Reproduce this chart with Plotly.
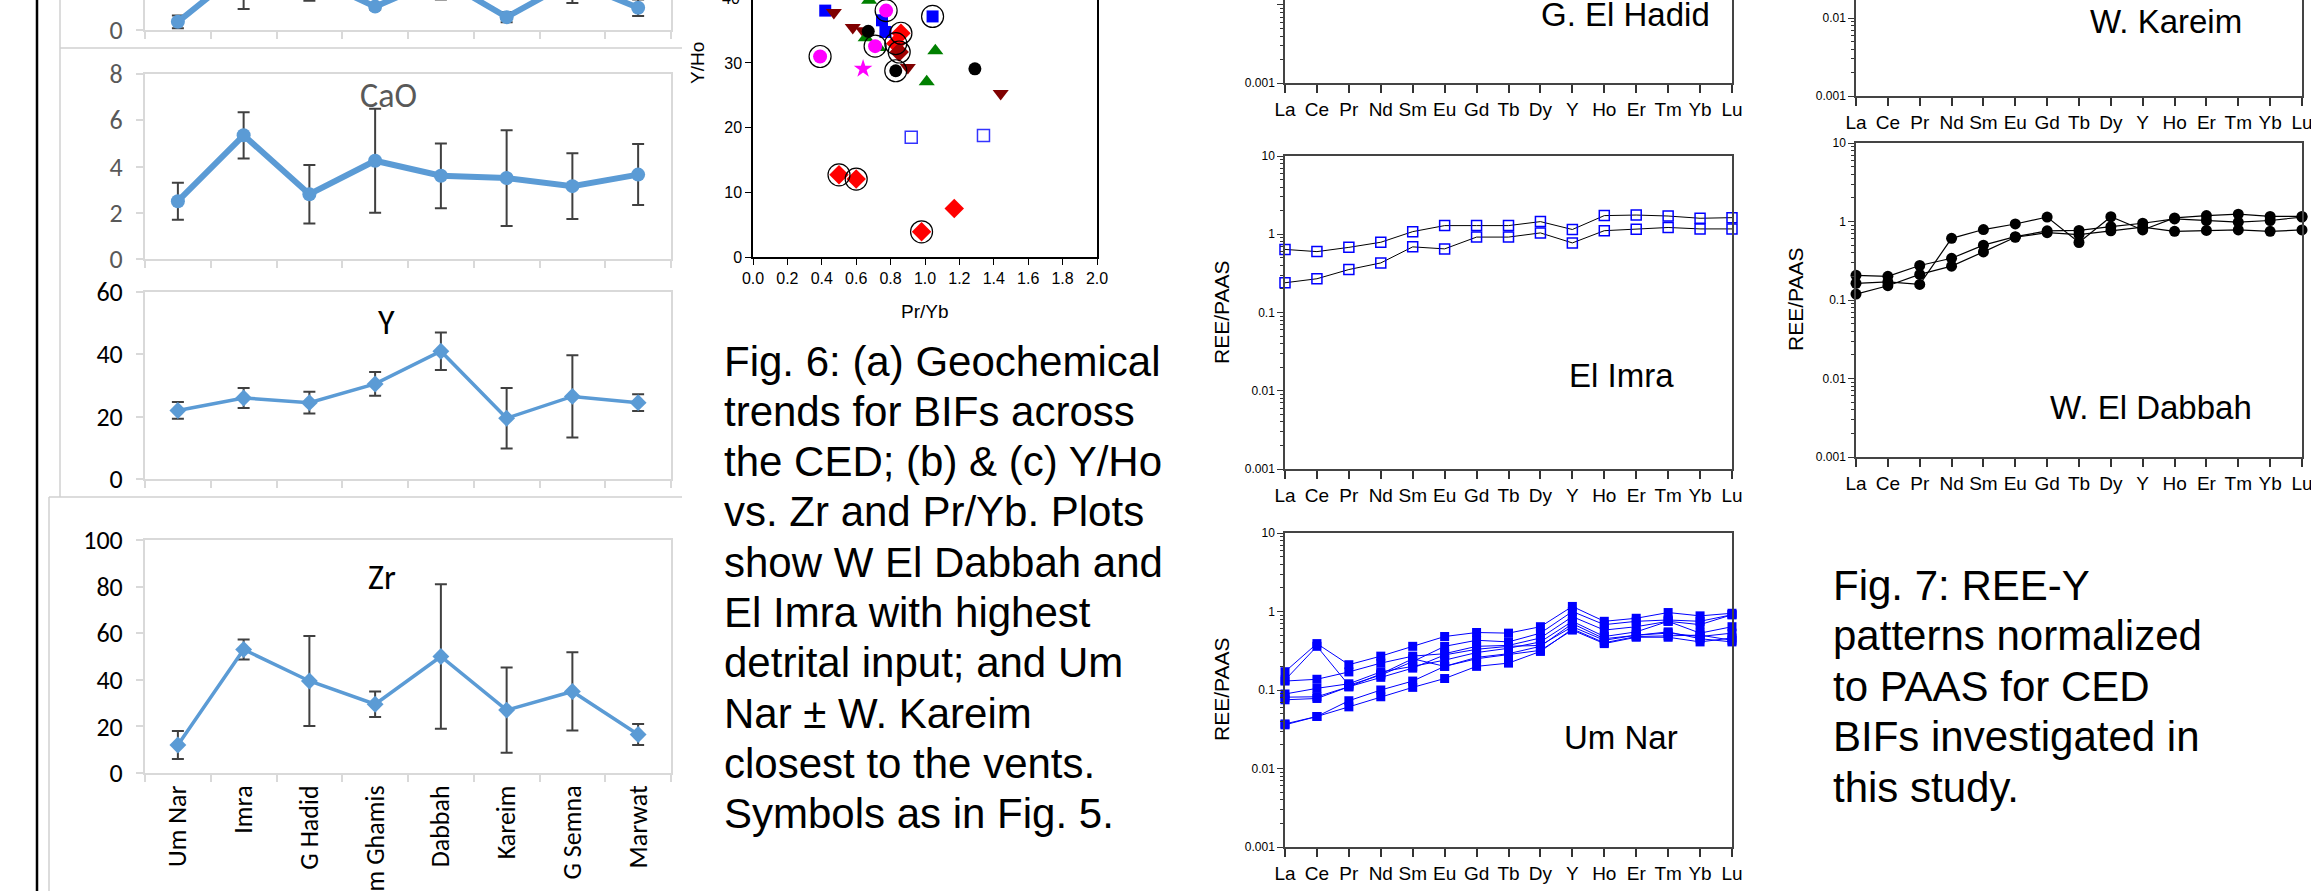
import plotly.graph_objects as go

W, H = 2311, 891
def px(x): return x / W
def py(y): return 1 - y / H

# ---------------- Fig 6a : Excel style trend panels ----------------
sites = ["Um Nar", "Imra", "G Hadid", "Um Ghamis", "Dabbah", "Kareim", "G Semna", "Marwat"]
top_vals = [0.35, 2.6, 2.3, 1.0, 2.2, 0.55, 2.1, 0.95]
top_err = [0.27, 1.7, 1.05, 0.12, 0.9, 0.22, 0.95, 0.35]
cao_vals = [2.5, 5.35, 2.8, 4.25, 3.6, 3.5, 3.15, 3.65]
cao_err = [0.8, 1.0, 1.27, 2.25, 1.4, 2.07, 1.42, 1.32]
y_vals = [22, 26, 24.5, 30.5, 41, 19.5, 26.5, 24.5]
y_err = [2.7, 3.2, 3.5, 3.8, 6, 9.7, 13.2, 2.7]
zr_vals = [12, 53, 39.5, 29.5, 50, 27, 35, 16.5]
zr_err = [6, 4.3, 19.3, 5.5, 31, 18.3, 16.8, 4.5]

# ---------------- Fig 6c : Y/Ho vs Pr/Yb ----------------
blue_sq_x = [0.33, 0.42, 0.75, 0.77, 1.044]
blue_sq_y = [40.1, 38.1, 36.6, 34.8, 37.2]
dred_tri_x = [0.47, 0.58, 0.64, 0.90, 1.44]
dred_tri_y = [37.8, 35.5, 35.0, 29.3, 25.3]
green_tri_x = [0.675, 0.655, 0.73, 1.06, 1.01]
green_tri_y = [39.7, 33.9, 32.4, 31.9, 27.1]
mag_x = [0.774, 0.71, 0.39]
mag_y = [38.1, 32.6, 31.0]
star_x = [0.64]
star_y = [29.1]
black_x = [0.67, 0.83, 1.29]
black_y = [34.9, 28.8, 29.1]
red_dia_x = [0.86, 0.83, 0.50, 0.60, 1.17, 0.98]
red_dia_y = [34.6, 33.0, 12.7, 12.05, 7.5, 3.9]
dred_dia_x = [0.85]
dred_dia_y = [31.7]
open_sq_x = [0.92, 1.34]
open_sq_y = [18.5, 18.8]
ring_x = [1.044, 0.774, 0.71, 0.39, 0.83, 0.86, 0.83, 0.85, 0.50, 0.60, 0.98]
ring_y = [37.2, 38.1, 32.6, 31.0, 28.8, 34.6, 33.0, 31.7, 12.7, 12.05, 3.9]

# ---------------- Fig 7 : REE-Y patterns ----------------
ree = ["La", "Ce", "Pr", "Nd", "Sm", "Eu", "Gd", "Tb", "Dy", "Y", "Ho", "Er", "Tm", "Yb", "Lu"]
imra = [
    [0.64, 0.60, 0.68, 0.79, 1.08, 1.29, 1.29, 1.29, 1.45, 1.15, 1.73, 1.76, 1.71, 1.60, 1.63],
    [0.24, 0.27, 0.354, 0.43, 0.69, 0.65, 0.92, 0.92, 1.04, 0.775, 1.11, 1.16, 1.22, 1.17, 1.17],
]
umnar = [
    [0.171, 0.39, 0.21, 0.27, 0.36, 0.48, 0.54, 0.53, 0.64, 1.16, 0.75, 0.82, 0.97, 0.88, 0.95],
    [0.134, 0.36, 0.115, 0.155, 0.23, 0.36, 0.43, 0.41, 0.53, 1.0, 0.68, 0.75, 0.78, 0.75, 0.91],
    [0.13, 0.137, 0.17, 0.22, 0.27, 0.29, 0.36, 0.37, 0.46, 0.86, 0.58, 0.64, 0.75, 0.68, 0.91],
    [0.089, 0.105, 0.12, 0.17, 0.2, 0.24, 0.3, 0.34, 0.41, 0.75, 0.48, 0.55, 0.75, 0.53, 0.64],
    [0.081, 0.082, 0.11, 0.145, 0.19, 0.28, 0.33, 0.36, 0.37, 0.64, 0.43, 0.5, 0.53, 0.48, 0.53],
    [0.075, 0.078, 0.11, 0.16, 0.25, 0.2, 0.25, 0.28, 0.32, 0.58, 0.39, 0.47, 0.47, 0.41, 0.46],
    [0.037, 0.046, 0.073, 0.1, 0.13, 0.2, 0.26, 0.29, 0.36, 0.7, 0.45, 0.5, 0.55, 0.45, 0.41],
    [0.036, 0.046, 0.061, 0.082, 0.108, 0.14, 0.2, 0.22, 0.31, 0.6, 0.4, 0.48, 0.49, 0.5, 0.43],
]
dabbah = [
    [0.206, 0.20, 0.275, 0.34, 0.50, 0.64, 0.76, 0.77, 0.86, 0.95, 1.08, 1.03, 0.98, 1.03, 1.14],
    [0.163, 0.17, 0.158, 0.61, 0.79, 0.93, 1.14, 0.54, 1.15, 0.78, 1.11, 1.19, 1.24, 1.16, 1.16],
    [0.119, 0.152, 0.212, 0.27, 0.41, 0.63, 0.72, 0.68, 0.76, 0.85, 0.75, 0.77, 0.78, 0.75, 0.78],
]

cap6 = ["Fig. 6: (a) Geochemical", "trends for BIFs across", "the CED; (b) &amp; (c) Y/Ho",
        "vs. Zr and Pr/Yb. Plots", "show W El Dabbah and", "El Imra with highest",
        "detrital input; and Um", "Nar ± W. Kareim", "closest to the vents.",
        "Symbols as in Fig. 5."]
cap7 = ["Fig. 7: REE-Y", "patterns normalized", "to PAAS for CED",
        "BIFs investigated in", "this study."]

fig = go.Figure()
XL_BLUE = "#5B9BD5"
XL_FONT = "Carlito, Lato, sans-serif"
ARIAL = "Liberation Sans, Arial, sans-serif"
EXCEL_GRAY = "#d9d9d9"

def excel_trace(vals, err, n, thick, symbol, msize):
    fig.add_trace(go.Scatter(
        x=sites, y=vals, xaxis="x" + n, yaxis="y" + n, mode="lines+markers",
        line=dict(color=XL_BLUE, width=thick),
        marker=dict(color=XL_BLUE, symbol=symbol, size=msize),
        error_y=dict(type="data", array=err, color="#404040", thickness=2, width=6),
        showlegend=False, hoverinfo="skip"))

excel_trace(top_vals, top_err, "", 6, "circle", 14)
excel_trace(cao_vals, cao_err, "2", 6, "circle", 14)
excel_trace(y_vals, y_err, "3", 3.5, "diamond", 13)
excel_trace(zr_vals, zr_err, "4", 3.5, "diamond", 13)

def sc(xs, ys, color, symbol, size, lw=0, lc=None):
    fig.add_trace(go.Scatter(x=xs, y=ys, xaxis="x5", yaxis="y5", mode="markers",
                             marker=dict(color=color, symbol=symbol, size=size,
                                         line=dict(width=lw, color=lc or color)),
                             cliponaxis=False, showlegend=False, hoverinfo="skip"))

sc(blue_sq_x, blue_sq_y, "#0000FF", "square", 12)
sc(dred_tri_x, dred_tri_y, "#800000", "triangle-down", 14)
sc(green_tri_x, green_tri_y, "#008000", "triangle-up", 14)
sc(mag_x, mag_y, "#FF00FF", "circle", 14)
sc(star_x, star_y, "#FF00FF", "star", 14)
sc(black_x, black_y, "#000000", "circle", 13)
sc(red_dia_x, red_dia_y, "#FF0000", "diamond", 15)
sc(dred_dia_x, dred_dia_y, "#A00000", "diamond", 15)
sc(open_sq_x, open_sq_y, "#3333FF", "square-open", 12, 1.5)
sc(ring_x, ring_y, "#000000", "circle-open", 22, 1.2)

for s in imra:
    fig.add_trace(go.Scatter(x=ree, y=s, xaxis="x7", yaxis="y7", mode="lines+markers",
                             line=dict(color="#000000", width=1),
                             marker=dict(symbol="square-open", color="#0000FF", size=10, line=dict(width=1.5)),
                             cliponaxis=False, showlegend=False, hoverinfo="skip"))
for s in umnar:
    fig.add_trace(go.Scatter(x=ree, y=s, xaxis="x8", yaxis="y8", mode="lines+markers",
                             line=dict(color="#0000FF", width=1),
                             marker=dict(symbol="square", color="#0000FF", size=9),
                             cliponaxis=False, showlegend=False, hoverinfo="skip"))
for s in dabbah:
    fig.add_trace(go.Scatter(x=ree, y=s, xaxis="x10", yaxis="y10", mode="lines+markers",
                             line=dict(color="#000000", width=1.2),
                             marker=dict(symbol="circle", color="#000000", size=11),
                             cliponaxis=False, showlegend=False, hoverinfo="skip"))
fig.add_trace(go.Scatter(x=ree, y=[None] * 15, xaxis="x6", yaxis="y6", showlegend=False))
fig.add_trace(go.Scatter(x=ree, y=[None] * 15, xaxis="x9", yaxis="y9", showlegend=False))

layout = dict(width=W, height=H, margin=dict(l=0, r=0, t=0, b=0, autoexpand=False),
              paper_bgcolor="white", plot_bgcolor="rgba(0,0,0,0)", showlegend=False)

LX = [px(145), px(671)]

def excel_x(anchor, labels=False, mirror=True):
    d = dict(domain=LX, type="category", categoryorder="array", categoryarray=sites,
             range=[-0.5, 7.5], tickson="boundaries", ticks="outside", ticklen=7,
             tickcolor=EXCEL_GRAY, tickwidth=1.5, showline=True, linecolor=EXCEL_GRAY,
             linewidth=2, mirror=mirror, showgrid=False, zeroline=False, anchor=anchor,
             showticklabels=labels, automargin=False)
    if labels:
        d.update(tickangle=-90, tickfont=dict(family=XL_FONT, size=26, color="#000000"))
    return d

def excel_y(dom, rng, dtick, anchor, color):
    return dict(domain=dom, range=rng, dtick=dtick, ticks="outside", ticklen=7,
                tickcolor=EXCEL_GRAY, tickwidth=1.5, showline=True, linecolor=EXCEL_GRAY,
                linewidth=2, mirror=True, showgrid=False, zeroline=False, anchor=anchor,
                tickfont=dict(family=XL_FONT, size=26, color=color), ticklabelstandoff=8,
                automargin=False)

layout["xaxis"] = excel_x("y", mirror=False)
layout["yaxis"] = excel_y([py(30), 1], [0, 1.282], 2, "x", "#595959")
layout["xaxis2"] = excel_x("y2")
layout["yaxis2"] = excel_y([py(259), py(74)], [0, 8], 2, "x2", "#595959")
layout["xaxis3"] = excel_x("y3")
layout["yaxis3"] = excel_y([py(479), py(292)], [0, 60], 20, "x3", "#000000")
layout["xaxis4"] = excel_x("y4", labels=True)
layout["yaxis4"] = excel_y([py(773), py(540)], [0, 100], 20, "x4", "#000000")

layout["xaxis5"] = dict(domain=[px(753), px(1097)], range=[0, 2], dtick=0.2, tickformat=".1f",
                        ticks="outside", ticklen=6, tickcolor="#000", showline=True,
                        linecolor="#000", linewidth=1.5, mirror=False, showgrid=False,
                        zeroline=False, anchor="y5", automargin=False,
                        tickfont=dict(family=ARIAL, size=16, color="#000"))
layout["yaxis5"] = dict(domain=[py(257), 1], range=[0, 39.74], dtick=10,
                        ticks="outside", ticklen=6, tickcolor="#000", showline=True,
                        linecolor="#000", linewidth=1.5, mirror=True, showgrid=False,
                        zeroline=False, anchor="x5", automargin=False,
                        tickfont=dict(family=ARIAL, size=16, color="#000"))

minor_vals = [m * 10 ** e for e in range(-3, 1) for m in range(2, 10)]

def ree_x(dom, anchor, mirror=True):
    return dict(domain=dom, type="category", categoryorder="array", categoryarray=ree,
                range=[0, 14], ticks="outside", ticklen=8, tickcolor="#333", tickwidth=1.5,
                showline=True, linecolor="#444", linewidth=1.5, mirror=mirror,
                showgrid=False, zeroline=False, anchor=anchor, automargin=False,
                tickfont=dict(family=ARIAL, size=19, color="#000"))

def ree_y(dom, rng, anchor):
    return dict(domain=dom, type="log", range=rng, tickmode="array",
                tickvals=[0.001, 0.01, 0.1, 1, 10], ticktext=["0.001", "0.01", "0.1", "1", "10"],
                ticks="outside", ticklen=6, tickcolor="#333", tickwidth=1.2,
                minor=dict(ticks="outside", ticklen=3, tickcolor="#333", tickmode="array",
                           tickvals=minor_vals),
                showline=True, linecolor="#444", linewidth=1.5, mirror=True,
                showgrid=False, zeroline=False, anchor=anchor, automargin=False,
                tickfont=dict(family=ARIAL, size=12, color="#000"))

MX = [px(1285), px(1732)]
RX = [px(1856), px(2302)]
layout["xaxis6"] = ree_x(MX, "y6", mirror=False)
layout["yaxis6"] = ree_y([py(83), 1], [-3, -1.936], "x6")
layout["xaxis7"] = ree_x(MX, "y7")
layout["yaxis7"] = ree_y([py(469), py(156)], [-3, 1], "x7")
layout["xaxis8"] = ree_x(MX, "y8")
layout["yaxis8"] = ree_y([py(847), py(533)], [-3, 1], "x8")
layout["xaxis9"] = ree_x(RX, "y9", mirror=False)
layout["yaxis9"] = ree_y([py(96), 1], [-3, -1.769], "x9")
layout["xaxis10"] = ree_x(RX, "y10")
layout["yaxis10"] = ree_y([py(457), py(143)], [-3, 1], "x10")

fig.update_layout(**layout)

ann = []
def A(text, x, y, size, family=ARIAL, color="#000", angle=0, xanchor="center"):
    ann.append(dict(text=text, x=px(x), y=py(y), xref="paper", yref="paper",
                    xanchor=xanchor, yanchor="middle", showarrow=False, textangle=angle,
                    font=dict(family=family, size=size, color=color)))

A("CaO", 388, 96, 34, XL_FONT, "#595959")
A("Y", 386, 322, 34, XL_FONT, "#000")
A("Zr", 382, 577, 34, XL_FONT, "#000")
A("Y/Ho", 697, 63, 19, angle=-90)
A("Pr/Yb", 925, 311, 19)
A("40", 731, -2, 16)
A("G. El Hadid", 1625, 14, 33)
A("El Imra", 1621, 375, 33)
A("Um Nar", 1621, 737, 33)
A("W. Kareim", 2166, 21, 33)
A("W. El Dabbah", 2151, 407, 33)
A("REE/PAAS", 1221, 313, 21, angle=-90)
A("REE/PAAS", 1221, 690, 21, angle=-90)
A("REE/PAAS", 1795, 300, 21, angle=-90)
for i, t in enumerate(cap6):
    A(t, 722, 361 + 50.3 * i, 42, xanchor="left")
for i, t in enumerate(cap7):
    A(t, 1831, 585 + 50.5 * i, 42, xanchor="left")
fig.update_layout(annotations=ann)

shapes = [
    dict(type="line", xref="paper", yref="paper", x0=px(37), x1=px(37), y0=0, y1=1,
         line=dict(color="#000", width=2.5)),
    dict(type="line", xref="paper", yref="paper", x0=px(60), x1=px(60), y0=py(497), y1=1,
         line=dict(color="#d0d0d0", width=1.5)),
    dict(type="line", xref="paper", yref="paper", x0=px(60), x1=px(682), y0=py(48), y1=py(48),
         line=dict(color="#d0d0d0", width=1.5)),
    dict(type="line", xref="paper", yref="paper", x0=px(49), x1=px(682), y0=py(497), y1=py(497),
         line=dict(color="#d0d0d0", width=1.5)),
    dict(type="line", xref="paper", yref="paper", x0=px(49), x1=px(49), y0=0, y1=py(497),
         line=dict(color="#d0d0d0", width=1.5)),
]
fig.update_layout(shapes=shapes)

fig.write_html("out.html", config={"displayModeBar": False},
               post_script="document.body.style.margin='0';document.body.style.overflow='hidden';")
